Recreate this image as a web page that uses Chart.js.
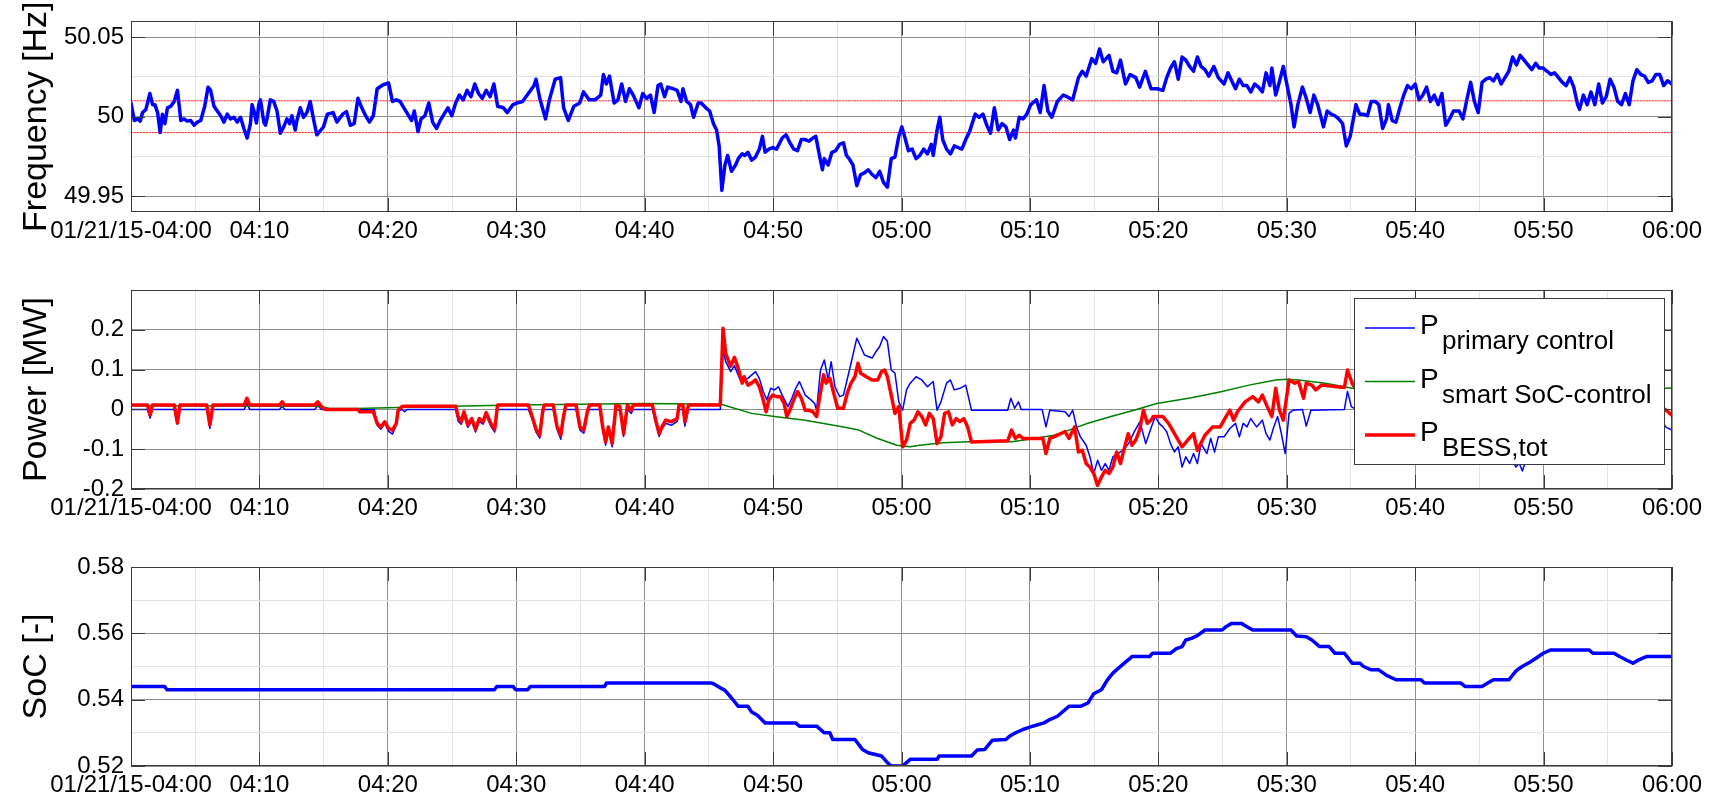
<!DOCTYPE html>
<html>
<head>
<meta charset="utf-8">
<script src="https://cdn.jsdelivr.net/npm/chart.js@4.4.1/dist/chart.umd.min.js"></script>
<style>
  body { margin: 0; background: #fff; }
  canvas { position: absolute; left: 0; }
</style>
</head>
<body>
<canvas id="freq-chart" width="1715" height="262" style="top:0px"></canvas>
<canvas id="power-chart" width="1715" height="277" style="top:262px"></canvas>
<canvas id="soc-chart" width="1715" height="259" style="top:539px"></canvas>
<script>
// minutes after 04:00, shared by all three panels
const timeTicks = [0, 10, 20, 30, 40, 50, 60, 70, 80, 90, 100, 110, 120];
const timeLabels = ['01/21/15-04:00', '04:10', '04:20', '04:30', '04:40', '04:50', '05:00',
                    '05:10', '05:20', '05:30', '05:40', '05:50', '06:00'];
const timeMinor = [5, 15, 25, 35, 45, 55, 65, 75, 85, 95, 105, 115];

const freqTicks = [49.95, 50, 50.05];
const freqMinor = [49.975, 50.025];
const bandHz = [49.99, 50.01];

const powerTicks = [-0.2, -0.1, 0, 0.1, 0.2];
const powerMinor = [-0.15, -0.05, 0.05, 0.15, 0.25];

const socTicks = [0.52, 0.54, 0.56, 0.58];
const socMinor = [0.53, 0.55, 0.57];

const seriesNames = ['primary control', 'smart SoC-control', 'BESS,tot'];

// grid frequency [minute, Hz]
const freqHz = [
  [0,50.0086],[0.26,49.9976],[0.52,49.9986],[0.72,49.9972],[0.9,50.0026],[1.16,50.0046],[1.47,50.0146],[1.68,50.0076],
  [1.86,50.0076],[2.07,50.0026],[2.27,49.99],[2.45,50.0016],[2.64,49.9956],[2.84,50.0056],[3.1,50.0066],[3.36,50.0096],
  [3.62,50.0166],[3.88,49.9976],[4.13,49.9986],[4.39,49.9972],[4.65,49.9976],[4.91,49.9946],[5.17,49.9966],[5.43,49.9976],
  [5.74,50.0066],[6.0,50.0186],[6.2,50.0166],[6.46,50.0066],[6.72,50.0036],[6.98,50.0006],[7.24,49.9966],[7.49,50.0016],
  [7.75,49.9986],[8.01,49.9996],[8.27,49.9966],[8.53,49.9996],[8.79,49.9926],[9.04,49.9866],[9.3,49.9956],[9.43,50.0076],
  [9.61,50.0026],[9.77,49.996],[9.95,50.0076],[10.08,50.0106],[10.34,49.9966],[10.47,49.9946],[10.59,49.9986],[10.85,50.0106],
  [11.11,50.0096],[11.37,50.0036],[11.63,49.9896],[11.89,49.9936],[12.14,49.9986],[12.35,49.9956],[12.53,50.0006],[12.79,49.9916],
  [12.92,49.9976],[13.18,50.0056],[13.44,49.9996],[13.7,50.0026],[13.95,50.0096],[14.21,49.9986],[14.47,49.9886],[14.99,49.9936],
  [15.29,50.0016],[15.74,50.0026],[16.04,49.9966],[16.48,50.0016],[16.78,50.0032],[17.08,49.9946],[17.38,49.9956],[17.67,50.0116],
  [17.97,50.0056],[18.27,50.0006],[18.57,49.9966],[18.87,50.0006],[19.17,50.0176],[19.61,50.02],[20.06,50.0212],[20.36,50.0096],
  [20.66,50.0106],[20.95,50.0096],[21.25,50.0056],[21.55,50.0016],[21.85,49.9976],[22.06,50.0036],[22.35,49.9906],[22.59,49.9986],
  [22.89,50.0006],[23.19,50.0086],[23.49,49.9966],[23.79,49.9926],[24.08,49.9976],[24.38,50.0016],[24.68,50.0056],[24.98,50.0006],
  [25.28,50.0086],[25.57,50.0136],[25.87,50.0106],[26.17,50.0166],[26.47,50.0126],[26.77,50.0206],[27.06,50.0146],[27.36,50.0116],
  [27.66,50.0166],[27.96,50.0126],[28.26,50.0206],[28.55,50.0066],[29.0,50.0056],[29.3,50.0026],[29.75,50.0076],[30.04,50.0086],
  [30.49,50.0096],[30.94,50.0146],[31.39,50.0196],[31.54,50.0236],[31.83,50.0116],[32.28,49.9986],[32.58,50.0106],[33.03,50.0236],
  [33.45,50.0246],[33.69,50.0056],[34.05,49.9976],[34.49,50.0066],[34.94,50.0086],[35.24,50.0156],[35.68,50.0106],[36.13,50.0106],
  [36.58,50.0136],[36.79,50.0266],[37.02,50.0206],[37.26,50.0256],[37.62,50.0086],[37.92,50.0106],[38.21,50.0206],[38.51,50.0096],
  [38.81,50.0176],[39.11,50.0136],[39.55,50.0056],[39.85,50.0146],[40.15,50.0116],[40.45,50.0136],[40.74,50.0026],[41.04,50.0196],
  [41.25,50.0206],[41.55,50.0126],[41.79,50.0186],[42.23,50.0176],[42.53,50.0166],[42.83,50.0096],[42.98,50.0176],[43.27,50.0096],
  [43.57,50.0076],[43.81,49.9996],[44.17,50.0086],[44.4,50.0086],[44.76,50.0056],[45.06,50.0036],[45.36,49.9956],[45.6,49.9916],
  [45.8,49.9816],[46.01,49.9536],[46.25,49.9696],[46.46,49.9756],[46.76,49.9656],[47.08,49.9696],[47.29,49.9736],[47.59,49.9766],
  [47.8,49.9756],[48.04,49.9776],[48.33,49.9726],[48.63,49.9746],[48.93,49.9796],[49.17,49.9876],[49.38,49.9776],[49.67,49.9796],
  [49.97,49.9806],[50.27,49.9796],[50.71,49.9866],[51.01,49.9886],[51.31,49.9836],[51.61,49.9796],[51.9,49.9786],[52.2,49.9856],
  [52.5,49.9856],[52.8,49.9846],[53.1,49.9866],[53.33,49.9876],[53.54,49.9786],[53.84,49.9666],[53.99,49.9736],[54.29,49.9696],
  [54.58,49.9776],[54.88,49.9786],[55.18,49.9826],[55.48,49.9836],[55.71,49.9756],[55.92,49.9736],[56.22,49.9696],[56.52,49.9566],
  [56.82,49.9636],[57.11,49.9646],[57.41,49.9666],[57.71,49.9636],[58.01,49.9616],[58.3,49.9656],[58.6,49.9586],[58.9,49.9556],
  [59.2,49.9736],[59.49,49.9746],[59.79,49.9876],[60.03,49.9936],[60.24,49.9876],[60.54,49.9786],[60.83,49.9796],[61.13,49.9736],
  [61.43,49.9756],[61.73,49.9796],[62.02,49.9766],[62.32,49.9826],[62.47,49.9756],[62.77,49.9916],[62.98,49.9996],[63.21,49.9856],
  [63.51,49.9796],[63.81,49.9766],[64.11,49.9816],[64.4,49.9806],[64.7,49.9796],[65.0,49.9856],[65.3,49.9906],[65.74,50.0016],
  [66.04,49.9996],[66.34,50.0016],[66.64,49.9946],[66.93,49.9896],[67.23,50.0056],[67.53,49.9916],[67.83,49.9956],[68.13,49.9936],
  [68.42,49.9856],[68.72,49.9916],[68.87,49.9866],[69.17,49.9996],[69.46,49.9986],[69.76,50.0016],[70.06,50.0076],[70.51,50.0106],
  [70.8,50.0026],[71.1,50.0196],[71.4,50.0036],[71.7,49.9996],[72.14,50.0096],[72.59,50.0136],[72.89,50.0126],[73.33,50.0106],
  [73.78,50.0246],[74.08,50.0286],[74.38,50.0256],[74.82,50.0366],[75.12,50.0336],[75.42,50.0426],[75.71,50.0346],[76.16,50.0386],
  [76.46,50.0286],[76.76,50.0276],[77.05,50.0356],[77.44,50.0206],[77.8,50.0266],[78.24,50.0246],[78.54,50.0186],[78.99,50.0286],
  [79.43,50.0176],[79.91,50.0176],[80.36,50.0166],[80.65,50.0246],[80.95,50.0306],[81.25,50.0346],[81.55,50.0236],[81.85,50.0376],
  [82.14,50.0356],[82.44,50.0316],[82.74,50.0286],[83.04,50.0376],[83.33,50.0316],[83.63,50.0296],[83.93,50.0256],[84.32,50.0316],
  [84.67,50.0246],[85.12,50.0206],[85.42,50.0276],[85.71,50.0226],[86.01,50.0176],[86.31,50.0236],[86.61,50.0196],[86.9,50.0196],
  [87.2,50.0156],[87.5,50.0206],[87.8,50.0186],[88.1,50.0156],[88.39,50.0276],[88.69,50.0196],[88.84,50.0306],[89.14,50.0136],
  [89.38,50.0206],[89.73,50.0316],[90.03,50.0196],[90.33,50.0076],[90.57,49.9936],[90.86,50.0076],[91.22,50.0186],[91.52,50.0116],
  [91.82,50.0026],[92.11,50.0136],[92.41,50.0076],[92.86,49.9936],[93.15,50.0036],[93.45,50.0016],[93.75,50.0006],[94.05,49.9986],
  [94.35,49.9956],[94.64,49.9816],[94.94,49.9876],[95.39,50.0076],[95.68,50.0016],[95.98,50.0016],[96.28,50.0006],[96.58,50.0096],
  [96.88,50.0096],[97.17,50.0076],[97.47,49.9926],[97.77,49.9986],[97.92,50.0076],[98.21,49.9976],[98.51,49.9966],[98.81,50.0056],
  [99.11,50.0136],[99.4,50.0196],[99.7,50.0176],[100.0,50.0206],[100.3,50.0106],[100.6,50.0136],[100.89,50.0186],[101.19,50.0096],
  [101.49,50.0136],[101.79,50.0076],[102.08,50.0146],[102.38,49.9946],[102.68,49.9986],[102.98,50.0036],[103.42,50.0036],[103.72,49.9986],
  [104.02,50.0106],[104.32,50.0216],[104.61,50.0096],[104.91,50.0026],[105.21,50.0216],[105.51,50.0236],[105.8,50.0246],[106.1,50.0226],
  [106.4,50.0266],[106.7,50.0206],[106.99,50.0246],[107.29,50.0286],[107.59,50.0376],[107.89,50.0326],[108.18,50.0386],[108.48,50.0356],
  [108.78,50.0326],[109.08,50.0296],[109.38,50.0336],[109.67,50.0306],[109.97,50.0306],[110.27,50.0286],[110.57,50.0266],[110.86,50.0276],
  [111.16,50.0246],[111.46,50.0216],[111.76,50.0196],[112.05,50.0246],[112.35,50.0186],[112.65,50.0076],[112.8,50.0046],[113.1,50.0136],
  [113.39,50.0076],[113.69,50.0156],[113.99,50.0076],[114.29,50.0206],[114.58,50.0086],[114.88,50.0126],[115.18,50.0236],[115.48,50.0186],
  [115.77,50.0096],[116.07,50.0076],[116.37,50.0146],[116.67,50.0076],[116.96,50.0226],[117.26,50.0296],[117.56,50.0266],[117.86,50.0256],
  [118.15,50.0216],[118.45,50.0226],[118.75,50.0266],[119.05,50.0266],[119.35,50.0196],[119.64,50.0226],[120,50.0206]
];

// primary control power [minute, MW]
const powerPrimary = [
  [0,0],[1.28,0],[1.49,-0.022],[1.67,0],[3.37,0],[3.61,-0.037],[3.82,0],[5.9,0],[6.14,-0.048],[6.38,0],[8.82,0],[9.03,0.015],
  [9.24,0],[11.56,0],[11.77,0.008],[11.98,0],[14.31,0],[14.55,0.01],[14.84,0],[18.95,0],[19.17,-0.04],[19.46,-0.05],[19.76,-0.035],
  [20.06,-0.055],[20.36,-0.062],[20.66,-0.04],[20.8,-0.005],[21.1,0],[21.3,-0.006],[21.5,0],[25.28,0],[25.48,-0.03],[25.72,-0.037],
  [25.93,-0.015],[26.23,-0.045],[26.53,-0.03],[26.83,-0.057],[27.12,-0.03],[27.42,-0.037],[27.66,-0.015],[28.02,-0.042],[28.32,-0.057],
  [28.55,0],[30.94,0],[31.24,-0.025],[31.54,-0.057],[31.83,-0.072],[32.07,-0.01],[32.19,0],[32.88,0],[33.17,-0.05],[33.47,-0.075],
  [33.68,-0.025],[33.86,0],[34.66,0],[34.96,-0.052],[35.26,-0.06],[35.56,-0.008],[35.71,0],[36.5,0],[36.73,-0.05],[36.96,-0.09],
  [37.17,-0.05],[37.47,-0.094],[37.77,0],[38.07,-0.003],[38.36,-0.068],[38.66,0],[38.96,-0.01],[39.11,0],[40.6,0],[40.89,-0.038],
  [41.13,-0.068],[41.34,-0.05],[41.64,-0.035],[42.08,-0.04],[42.53,-0.03],[42.68,0],[42.98,0],[43.13,-0.042],[43.42,0],[45.89,0],
  [46.1,0.15],[46.31,0.12],[46.7,0.095],[46.99,0.11],[47.29,0.085],[47.44,0.074],[48.04,0.078],[48.63,0.095],[48.93,0.078],
  [49.23,0.045],[49.52,0.024],[49.82,0.053],[50.12,0.049],[50.42,0.057],[50.71,0.036],[51.16,0.007],[51.46,0.028],[51.76,0.053],
  [52.05,0.07],[52.5,0.036],[52.95,0.024],[53.24,0.015],[53.39,-0.002],[53.69,0.099],[53.99,0.124],[54.29,0.074],[54.52,0.12],
  [54.82,0.057],[55.18,0.032],[55.48,0.036],[56.07,0.116],[56.52,0.179],[56.82,0.158],[57.11,0.137],[57.41,0.133],[57.71,0.129],
  [58.01,0.145],[58.3,0.158],[58.6,0.183],[58.9,0.171],[59.2,0.099],[59.49,0.091],[59.79,0.019],[60.09,-0.002],[60.39,0.049],
  [60.68,0.066],[61.13,0.082],[61.58,0.074],[62.02,0.057],[62.47,0.07],[62.77,-0.002],[63.07,0.019],[63.51,0.066],[63.81,0.074],
  [64.11,0.049],[64.55,0.053],[65.0,0.061],[65.45,-0.002],[68.27,-0.002],[68.51,0.028],[68.81,0.003],[69.11,0.019],[69.32,0],
  [70.95,0],[71.25,-0.044],[71.55,-0.002],[72.74,-0.006],[73.04,-0.018],[73.33,-0.002],[73.63,-0.044],[73.93,-0.069],[74.38,-0.09],
  [74.67,-0.119],[74.97,-0.161],[75.27,-0.128],[75.57,-0.153],[75.86,-0.136],[76.16,-0.153],[76.46,-0.119],[77.23,-0.103],
  [77.68,-0.086],[78.13,-0.056],[78.57,-0.031],[79.02,-0.086],[79.46,-0.044],[79.76,-0.018],[80.06,-0.035],[80.36,-0.044],
  [80.65,-0.056],[80.95,-0.086],[81.25,-0.107],[81.55,-0.094],[81.85,-0.145],[82.14,-0.119],[82.44,-0.136],[82.74,-0.111],
  [83.04,-0.136],[83.33,-0.086],[83.78,-0.111],[84.08,-0.073],[84.38,-0.107],[84.67,-0.069],[85.12,-0.069],[85.57,-0.048],
  [86.01,-0.035],[86.31,-0.069],[86.61,-0.035],[86.9,-0.044],[87.2,-0.023],[87.65,-0.044],[88.1,-0.027],[88.39,-0.061],
  [88.69,-0.077],[88.99,-0.044],[89.29,-0.018],[89.58,-0.061],[89.88,-0.111],[90.18,-0.01],[90.48,-0.002],[91.22,0],[91.52,-0.042],
  [91.88,-0.002],[94.49,0],[94.73,0.045],[95.03,0.007],[95.39,0],[100,0],[104,-0.02],[107.4,-0.1],[107.6,-0.13],[107.85,-0.145],
  [108.1,-0.135],[108.35,-0.155],[108.6,-0.13],[109,-0.1],[112,-0.02],[116,0],[119.2,-0.03],[119.55,-0.045],[120,-0.052]
];

// smart SoC-control power [minute, MW]
const powerSmart = [
  [0,0.009],[14.5,0.008],[15.4,0.003],[17.5,0.002],[20,0.004],[25,0.008],[30,0.011],[35,0.013],[40,0.015],[45.95,0.013],
  [48.33,-0.01],[50.12,-0.018],[52.5,-0.027],[55.48,-0.044],[56.67,-0.052],[58.15,-0.073],[59.64,-0.09],[60.68,-0.094],
  [61.43,-0.09],[63.21,-0.084],[65.3,-0.081],[68.57,-0.081],[70.36,-0.073],[71.85,-0.065],[73.04,-0.052],[74.52,-0.035],
  [76.31,-0.018],[78.1,-0.002],[79.88,0.015],[82.59,0.029],[84.97,0.045],[87.05,0.061],[89.14,0.074],[90.03,0.076],
  [90.92,0.074],[93.01,0.066],[95.09,0.053],[100,0.05],[110,0.05],[119.5,0.053],[120,0.054]
];

// total battery power [minute, MW]
const powerBess = [
  [0,0.011],[1.28,0.011],[1.49,-0.014],[1.67,0.011],[3.37,0.011],[3.61,-0.034],[3.82,0.011],[5.9,0.011],[6.14,-0.039],
  [6.38,0.011],[8.82,0.011],[9.03,0.028],[9.24,0.011],[11.56,0.011],[11.77,0.019],[11.98,0.011],[14.31,0.011],[14.55,0.019],
  [14.84,0.007],[15.14,0],[17.67,0],[17.82,-0.006],[18.87,-0.006],[19.17,-0.035],[19.46,-0.044],[19.76,-0.031],[20.06,-0.048],
  [20.36,-0.052],[20.66,-0.035],[20.8,-0.002],[21.1,0.007],[21.4,0.008],[25.28,0.008],[25.48,-0.018],[25.72,-0.031],
  [25.93,-0.006],[26.23,-0.039],[26.53,-0.023],[26.83,-0.05],[27.12,-0.023],[27.42,-0.031],[27.66,-0.008],[28.02,-0.035],
  [28.32,-0.05],[28.55,0.011],[30.94,0.011],[31.24,-0.018],[31.54,-0.05],[31.83,-0.065],[32.07,-0.002],[32.19,0.011],
  [32.88,0.011],[33.17,-0.042],[33.47,-0.065],[33.68,-0.018],[33.86,0.011],[34.66,0.011],[34.96,-0.044],[35.26,-0.052],
  [35.56,-0.002],[35.71,0.011],[36.5,0.011],[36.73,-0.044],[36.96,-0.082],[37.17,-0.044],[37.47,-0.086],[37.77,0.011],
  [38.07,0.007],[38.36,-0.061],[38.66,0.011],[38.96,-0.002],[39.11,0.011],[40.6,0.011],[40.89,-0.031],[41.13,-0.061],
  [41.34,-0.044],[41.64,-0.027],[42.08,-0.031],[42.53,-0.023],[42.68,0.011],[42.98,0.011],[43.13,-0.031],[43.42,0.011],
  [45.89,0.011],[46.1,0.204],[46.31,0.141],[46.7,0.108],[46.99,0.131],[47.29,0.103],[47.59,0.066],[47.74,0.082],[48.04,0.061],
  [48.33,0.066],[48.63,0.074],[48.93,0.057],[49.23,0.024],[49.46,-0.006],[49.67,0.024],[49.97,0.036],[50.27,0.032],[50.57,0.032],
  [50.86,0.015],[51.07,-0.018],[51.31,-0.002],[51.61,0.024],[51.9,0.045],[52.2,0.028],[52.5,-0.002],[52.8,-0.002],[53.1,-0.006],
  [53.39,-0.018],[53.63,0.032],[53.93,0.087],[54.14,0.066],[54.43,0.078],[54.73,0.04],[55.03,0.003],[55.48,0.003],[55.77,0.04],
  [56.07,0.066],[56.37,0.082],[56.61,0.116],[56.82,0.091],[57.26,0.082],[57.71,0.074],[58.15,0.074],[58.45,0.095],[58.69,0.099],
  [58.9,0.082],[59.2,0.036],[59.49,-0.01],[59.79,0.007],[60.09,-0.094],[60.39,-0.077],[60.68,-0.035],[60.98,-0.027],[61.28,-0.006],
  [61.58,-0.018],[61.88,-0.039],[62.17,-0.01],[62.47,-0.023],[62.77,-0.086],[63.07,-0.069],[63.36,-0.01],[63.66,-0.006],
  [63.96,-0.039],[64.26,-0.023],[64.55,-0.031],[64.85,-0.023],[65.15,-0.044],[65.45,-0.082],[68.27,-0.079],[68.57,-0.052],
  [68.87,-0.073],[69.17,-0.065],[69.46,-0.073],[71.01,-0.073],[71.25,-0.111],[71.55,-0.073],[72.14,-0.065],[72.74,-0.056],
  [73.04,-0.073],[73.48,-0.044],[73.78,-0.107],[74.08,-0.103],[74.38,-0.136],[74.67,-0.145],[74.97,-0.161],[75.27,-0.191],
  [75.57,-0.17],[75.86,-0.153],[76.16,-0.161],[76.46,-0.145],[76.76,-0.107],[77.05,-0.136],[77.35,-0.098],[77.65,-0.061],
  [77.95,-0.09],[78.24,-0.077],[78.54,-0.052],[78.84,-0.002],[79.14,-0.035],[79.43,-0.027],[79.61,-0.018],[80.36,-0.018],
  [80.8,-0.035],[81.4,-0.069],[81.85,-0.094],[82.29,-0.077],[82.74,-0.061],[83.04,-0.103],[83.63,-0.065],[84.23,-0.044],
  [84.82,-0.044],[85.27,-0.018],[85.57,-0.002],[85.86,-0.027],[86.16,-0.006],[86.76,0.019],[87.35,0.032],[87.8,0.019],
  [88.1,0.036],[88.48,0.007],[88.84,-0.018],[89.14,0.053],[89.43,-0.002],[89.73,-0.027],[90.18,0.074],[90.63,0.066],
  [90.92,0.07],[91.31,0.028],[91.52,0.066],[91.96,0.061],[92.26,0.049],[92.71,0.061],[93.9,0.057],[94.49,0.055],[94.73,0.099],
  [95.09,0.066],[95.39,0.049],[100,0.045],[104,0.03],[108,-0.06],[112,0],[116,0.02],[119.2,0.005],[119.55,-0.002],[120,-0.015]
];

// battery state of charge [minute, -]
const socLevel = [
  [0,0.544],[2.62,0.544],[2.8,0.543],[28.3,0.543],[28.5,0.544],[29.75,0.544],[29.95,0.543],[30.9,0.543],[31.1,0.544],
  [36.88,0.544],[37.02,0.545],[45.21,0.545],[45.36,0.5448],[45.71,0.544],[46.25,0.5428],[46.7,0.5408],[47.29,0.538],
  [48.04,0.538],[48.33,0.5363],[48.78,0.5353],[49.38,0.533],[51.76,0.533],[52.05,0.532],[53.39,0.532],[53.99,0.53],
  [54.43,0.53],[54.64,0.528],[56.37,0.528],[56.96,0.525],[57.41,0.524],[58.45,0.523],[58.9,0.521],[59.2,0.52],[60.09,0.52],
  [60.39,0.521],[60.68,0.522],[62.77,0.522],[62.92,0.523],[65.45,0.523],[65.89,0.5248],[66.49,0.525],[67.08,0.5278],
  [68.13,0.528],[68.42,0.529],[68.87,0.53],[69.46,0.531],[70.21,0.532],[71.1,0.533],[71.55,0.534],[72.14,0.535],[73.04,0.538],
  [73.93,0.538],[74.52,0.539],[74.97,0.5418],[75.57,0.543],[76.01,0.5458],[76.46,0.548],[76.9,0.5495],[77.35,0.551],
  [77.95,0.553],[79.32,0.553],[79.55,0.554],[80.95,0.554],[81.4,0.5554],[81.85,0.556],[82.14,0.558],[82.59,0.5585],
  [83.04,0.5593],[83.63,0.561],[84.97,0.561],[85.27,0.562],[85.71,0.563],[86.46,0.563],[86.9,0.562],[87.35,0.561],[90.33,0.561],
  [90.77,0.5592],[91.52,0.559],[91.96,0.558],[92.56,0.556],[93.3,0.556],[93.75,0.554],[94.49,0.554],[95.09,0.551],[95.68,0.551],
  [95.98,0.55],[96.58,0.549],[97.17,0.549],[97.77,0.5473],[98.51,0.546],[100.45,0.546],[100.74,0.545],[103.57,0.545],
  [103.87,0.544],[105.21,0.544],[105.65,0.545],[106.1,0.546],[107.29,0.546],[107.89,0.5488],[108.33,0.55],[108.93,0.5513],
  [109.52,0.5528],[109.97,0.554],[110.57,0.555],[113.54,0.555],[113.84,0.554],[115.48,0.554],[115.92,0.553],[116.52,0.5518],
  [116.96,0.551],[117.41,0.552],[118.01,0.553],[120,0.553]
];

const FONT = '"Liberation Sans", Arial, Helvetica, sans-serif';
Chart.defaults.font.family = FONT;
Chart.defaults.color = '#000';

const MAJOR_GRID = '#8f8f8f';
const MINOR_GRID = '#e4e4e4';

const toPoints = pairs => pairs.map(([x, y]) => ({x: x, y: y}));

// box around the plot area with short inward tick marks on all four sides
const framePlugin = {
  id: 'frame',
  afterDraw(chart, args, opts) {
    const {ctx, chartArea: a, scales} = chart;
    ctx.save();
    ctx.strokeStyle = '#3a3a3a';
    ctx.lineWidth = 1;
    ctx.beginPath();
    timeTicks.forEach(v => {
      const px = Math.round(scales.x.getPixelForValue(v)) + 0.5;
      ctx.moveTo(px, a.bottom); ctx.lineTo(px, a.bottom - 14);
      ctx.moveTo(px, a.top); ctx.lineTo(px, a.top + 14);
    });
    opts.yTicks.forEach(v => {
      const py = Math.round(scales.y.getPixelForValue(v)) + 0.5;
      ctx.moveTo(a.left, py); ctx.lineTo(a.left + 14, py);
      ctx.moveTo(a.right, py); ctx.lineTo(a.right - 14, py);
    });
    ctx.stroke();
    ctx.strokeRect(Math.round(a.left) + 0.5, Math.round(a.top) + 0.5,
                   Math.round(a.width) - 1, Math.round(a.height) - 1);
    ctx.restore();
  }
};

// legend with subscripted labels, drawn inside the power panel
const subLegendPlugin = {
  id: 'subLegend',
  afterDraw(chart) {
    const {ctx, chartArea: a} = chart;
    const w = 310, h = 166;
    const x0 = Math.round(a.right) - 318, y0 = Math.round(a.top) + 8;
    ctx.save();
    ctx.fillStyle = '#fff';
    ctx.fillRect(x0, y0, w, h);
    ctx.strokeStyle = '#3a3a3a';
    ctx.lineWidth = 1;
    ctx.strokeRect(x0 + 0.5, y0 + 0.5, w, h);
    ctx.textAlign = 'left';
    ctx.textBaseline = 'alphabetic';
    chart.data.datasets.forEach((ds, i) => {
      const cy = y0 + 30 + i * 53.5;
      ctx.strokeStyle = ds.borderColor;
      ctx.lineWidth = ds.borderWidth;
      ctx.beginPath();
      ctx.moveTo(x0 + 11, cy);
      ctx.lineTo(x0 + 61, cy);
      ctx.stroke();
      ctx.fillStyle = '#000';
      ctx.font = '28px ' + FONT;
      ctx.fillText('P', x0 + 66, cy + 6);
      ctx.font = '26px ' + FONT;
      ctx.fillText(ds.label, x0 + 88, cy + 21);
    });
    ctx.restore();
  }
};

function panelOptions({yMin, yMax, yTicks, yMinor, yTitle, top, xHeight}) {
  const yAll = [...yTicks, ...yMinor].sort((p, q) => p - q);
  const xAll = [...timeTicks, ...timeMinor].sort((p, q) => p - q);
  return {
    responsive: false,
    animation: false,
    devicePixelRatio: 1,
    events: [],
    layout: { padding: { top: top, right: 43, left: 0, bottom: 0 } },
    plugins: {
      legend: { display: false },
      tooltip: { enabled: false },
      frame: { yTicks: yTicks }
    },
    elements: { point: { radius: 0 }, line: { tension: 0, borderCapStyle: 'round', borderJoinStyle: 'round' } },
    scales: {
      x: {
        type: 'linear',
        min: 0,
        max: 120,
        afterBuildTicks: s => { s.ticks = xAll.map(v => ({value: v})); },
        afterFit: s => { s.height = xHeight; },
        border: { display: false },
        grid: {
          drawTicks: false,
          color: c => timeTicks.includes(c.tick.value) ? MAJOR_GRID : MINOR_GRID
        },
        ticks: {
          autoSkip: false,
          maxRotation: 0,
          padding: 5,
          font: { size: 24 },
          color: '#000',
          callback: v => {
            const i = timeTicks.indexOf(v);
            return i < 0 ? '' : timeLabels[i];
          }
        }
      },
      y: {
        min: yMin,
        max: yMax,
        afterBuildTicks: s => { s.ticks = yAll.map(v => ({value: v})); },
        afterFit: s => { s.width = 131; },
        border: { display: false },
        grid: {
          drawTicks: false,
          color: c => yTicks.includes(c.tick.value) ? MAJOR_GRID : MINOR_GRID
        },
        ticks: {
          padding: 7,
          font: { size: 24 },
          color: '#000',
          callback: v => yTicks.includes(v) ? String(v) : ''
        },
        title: {
          display: true,
          text: yTitle,
          font: { size: 34 },
          color: '#000',
          padding: { top: 16, bottom: 0 }
        }
      }
    }
  };
}

// Frequency panel
new Chart(document.getElementById('freq-chart').getContext('2d'), {
  type: 'line',
  data: {
    datasets: [
      { label: 'f', data: toPoints(freqHz), borderColor: '#0000ff', borderWidth: 3.5 },
      ...bandHz.map(v => ({
        label: 'band', data: [{x: 0, y: v}, {x: 120, y: v}],
        borderColor: '#ff2020', borderWidth: 1, borderDash: [1.5, 1.5]
      }))
    ]
  },
  options: panelOptions({ yMin: 49.94, yMax: 50.06, yTicks: freqTicks, yMinor: freqMinor,
                          yTitle: 'Frequency [Hz]', top: 13, xHeight: 50 }),
  plugins: [framePlugin]
});

// Power panel
new Chart(document.getElementById('power-chart').getContext('2d'), {
  type: 'line',
  data: {
    datasets: [
      { label: seriesNames[0], data: toPoints(powerPrimary), borderColor: '#0000ff', borderWidth: 1.5, order: 2 },
      { label: seriesNames[1], data: toPoints(powerSmart), borderColor: '#008000', borderWidth: 1.5, order: 1 },
      { label: seriesNames[2], data: toPoints(powerBess), borderColor: '#ff0000', borderWidth: 3.5, order: 0 }
    ]
  },
  options: panelOptions({ yMin: -0.2, yMax: 0.3, yTicks: powerTicks, yMinor: powerMinor,
                          yTitle: 'Power [MW]', top: 28, xHeight: 50 }),
  plugins: [framePlugin, subLegendPlugin]
});

// State of charge panel
new Chart(document.getElementById('soc-chart').getContext('2d'), {
  type: 'line',
  data: {
    datasets: [
      { label: 'SoC', data: toPoints(socLevel), borderColor: '#0000ff', borderWidth: 3.5 }
    ]
  },
  options: panelOptions({ yMin: 0.52, yMax: 0.58, yTicks: socTicks, yMinor: socMinor,
                          yTitle: 'SoC [-]', top: 28, xHeight: 32 }),
  plugins: [framePlugin]
});
</script>
</body>
</html>
